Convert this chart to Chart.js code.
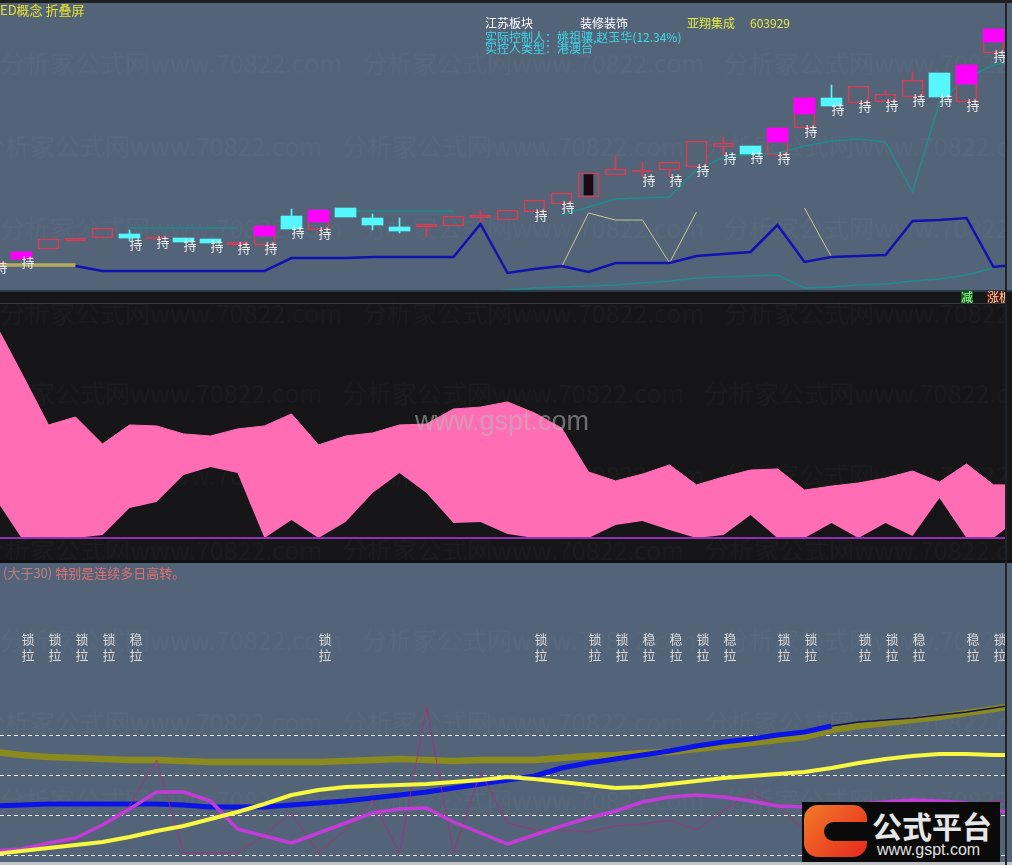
<!DOCTYPE html>
<html>
<head>
<meta charset="utf-8">
<script src="https://cdn.jsdelivr.net/npm/chart.js@4.4.1/dist/chart.umd.min.js"></script>
<style>
  html, body { margin: 0; padding: 0; background: #536479; }
  body { width: 1012px; height: 865px; position: relative; overflow: hidden; font-family: "Noto Sans CJK SC", "Noto Sans", sans-serif; }
  .panel { position: absolute; left: 0; width: 1012px; overflow: hidden; }
  #p1 { top: 0; height: 290px; background: #536479; }
  #p2 { top: 290px; height: 272px; background: #161618; }
  #p3 { top: 562px; height: 303px; background: #536479; }
  canvas { position: absolute; left: 0; top: 0; }
  .txt { position: absolute; font-size: 12px; line-height: 12px; white-space: nowrap; }
  .bar { position: absolute; }
</style>
</head>
<body>
<div class="panel" id="p1"><canvas id="c1" width="1005" height="290"></canvas></div>
<div class="panel" id="p2"><canvas id="c2" width="1005" height="272"></canvas></div>
<div class="panel" id="p3"><canvas id="c3" width="1005" height="303"></canvas></div>

<div class="bar" style="left:0;top:0;width:1012px;height:3px;background:#1e1f21"></div>
<div class="bar" style="left:0;top:290px;width:1012px;height:2px;background:#2a3a48"></div>
<div class="bar" style="left:0;top:560px;width:1012px;height:3px;background:#101012"></div>
<div class="bar" style="left:0;top:862px;width:1012px;height:3px;background:#c0c4c8"></div>
<div class="bar" style="left:1005px;top:0;width:2px;height:865px;background:#202428"></div>

<div class="txt" style="left:0;top:3px;font-size:13px;line-height:13px;color:#e8e030">ED概念 折叠屏</div>
<div class="txt" style="left:485px;top:17px;color:#ffffff">江苏板块</div>
<div class="txt" style="left:580px;top:17px;color:#ffffff">装修装饰</div>
<div class="txt" style="left:687px;top:17px;color:#e8e840">亚翔集成</div>
<div class="txt" style="left:750px;top:17px;color:#e8e840">603929</div>
<div class="txt" style="left:485px;top:31px;color:#3cd8e8">实际控制人：姚祖骧,赵玉华(12.34%)</div>
<div class="txt" style="left:485px;top:42px;color:#3cd8e8">实控人类型：港澳台</div>

<div class="txt" style="left:961px;top:291px;width:12px;height:12px;background:#106018;color:#a0ffa0">减</div>
<div class="txt" style="left:987px;top:291px;width:18px;height:12px;overflow:hidden;background:#501414;color:#ffd8a8">涨板</div>
<div class="txt" style="left:415px;top:406px;font-family:'Liberation Sans',sans-serif;font-size:27px;line-height:30px;color:rgba(185,185,185,0.55)">www.gspt.com</div>

<div class="txt" style="left:3px;top:566px;font-size:13px;line-height:13px;color:#e07070"><span style="color:#c08080">(大于30)</span> 特别是连续多日高转。</div>

<div class="bar" style="left:802px;top:802px;width:198px;height:60px;background:#0a0a0a">
  <div class="bar" style="left:2px;top:3px;width:63px;height:52px;border-radius:14px;background:linear-gradient(135deg,#f27a2a,#e6281c)"></div>
  <div class="bar" style="left:22px;top:20px;width:43px;height:19px;border-radius:10px 0 0 10px;background:#0a0a0a"></div>
  <div class="txt" style="left:70px;top:6px;font-size:30px;line-height:34px;color:#e6e6e6;font-weight:bold">公式平台</div>
  <div class="txt" style="left:75px;top:40px;font-family:'Liberation Sans',sans-serif;font-size:16px;line-height:16px;color:#e0e0e0">www.gspt.com</div>
</div>

<script>
// bar index (one per trading day)
var idx = [0, 1, 2, 3, 4, 5, 6, 7, 8, 9, 10, 11, 12, 13, 14, 15, 16, 17, 18, 19,
  20, 21, 22, 23, 24, 25, 26, 27, 28, 29, 30, 31, 32, 33, 34, 35, 36, 37, 38];

// K line
var open = [9.04, 9.24, 9.64, 9.96, 10.08, 10.24, 10.04, 10.08, 10.04, 9.80, 9.80, 10.96, 10.40, 11.28, 10.88, 10.52, 10.52, 10.56, 10.88, 10.80,
  11.12, 11.44, 11.72, 12.60, 12.72, 12.80, 12.92, 13.72, 13.76, 13.40, 14.48, 15.68, 15.48, 15.52, 15.72, 16.68, 15.52, 17.48, null];
var close = [9.12, 9.52, 10.04, 10.08, 10.48, 10.08, 10.12, 9.92, 9.88, 9.92, 10.56, 10.44, 11.20, 10.92, 10.60, 10.36, 10.64, 10.96, 11.00, 11.20,
  11.60, 11.88, 12.68, 12.84, 12.80, 13.12, 13.96, 13.88, 13.44, 14.48, 15.68, 15.36, 16.16, 15.84, 16.40, 15.72, 17.00, 18.44, null];
var high = [9.12, 9.52, 10.04, 10.08, 10.48, 10.40, 10.12, 10.08, 10.04, 9.92, 10.56, 11.24, 11.20, 11.28, 11.04, 10.88, 10.64, 10.96, 11.20, 11.20,
  11.60, 11.88, 12.68, 13.36, 13.12, 13.12, 13.96, 14.12, 13.76, 14.48, 15.68, 16.20, 16.16, 16.00, 16.72, 16.68, 17.00, 18.44, null];
var low = [9.04, 9.24, 9.64, 9.96, 10.08, 9.96, 10.04, 9.92, 9.88, 9.80, 9.80, 10.44, 10.40, 10.92, 10.40, 10.28, 10.12, 10.56, 10.72, 10.80,
  11.12, 11.44, 11.72, 12.60, 12.52, 12.52, 12.92, 13.40, 13.44, 13.40, 14.48, 15.36, 15.48, 15.52, 15.72, 15.72, 15.52, 17.48, null];
// magenta block: from this price up to close
var magLow = [null, 9.24, null, null, null, null, null, null, null, null, 10.16, null, 10.72, null, null, null, null, null, null, null,
  null, null, null, null, null, null, null, null, null, 13.92, 15.04, null, null, null, null, null, 16.24, 17.92, null];
var focusIdx = 22;
var focusBody = [11.80, 12.62];
var holdIdx = [0, 1, 5, 6, 7, 8, 9, 10, 11, 12, 20, 21, 24, 25, 26, 27, 28, 29, 30, 31, 32, 33, 34, 35, 36, 37];

// main chart lines
var tealHi = [null, null, null, null, null, 10.48, 10.48, 10.48, 10.48, 10.48, null, null, null, 11.16, 11.16, 11.16, 11.16, 11.16, null, null,
  null, 11.00, 11.32, 11.64, 11.68, 11.72, 12.80, 13.32, 13.40, 13.48, 13.76, 13.96, 14.04, 13.92, 11.92, 15.52, 16.48, 17.00, 17.20];
var tealLo = [null, null, null, null, null, null, null, null, null, null, null, null, null, null, null, null, null, null, 7.92, 8.00,
  8.08, 8.12, 8.16, 8.20, 8.28, 8.36, 8.48, 8.52, 8.56, 8.60, 8.08, 8.12, 8.20, 8.24, 8.36, 8.44, 8.60, 8.88, 9.12];
var blueLine = [null, null, null, 8.96, 8.76, 8.76, 8.76, 8.76, 8.76, 8.76, 8.76, 9.28, 9.28, 9.28, 9.32, 9.32, 9.32, 9.32, 10.64, 8.68,
  8.84, 8.96, 8.72, 9.08, 9.08, 9.08, 9.36, 9.44, 9.52, 10.60, 9.12, 9.32, 9.36, 9.40, 10.76, 10.80, 10.88, 8.92, 9.04];
var khakiLine = [9.00, 9.00, 9.00, 9.00, null, null, null, null, null, null, null, null, null, null, null, null, null, null, null, null,
  null, 8.92, 11.08, 10.80, 10.80, 9.08, 11.12, null, null, null, 11.28, 9.32, null, null, null, null, null, null, null];

// middle panel band
var flowTop = [91.9, 70.2, 48.1, 51.5, 40.0, 48.1, 47.7, 44.3, 43.4, 46.4, 47.7, 52.8, 39.6, 43.4, 44.7, 48.1, 48.5, 54.9, 55.7, 57.9,
  53.2, 46.8, 28.1, 24.3, 27.2, 31.1, 22.6, 26.0, 28.9, 29.4, 20.4, 22.1, 23.4, 25.5, 28.5, 23.8, 31.5, 22.6, 22.6];
var flowBase = [17.4, 0, 0, 0, 1.3, 12.8, 15.3, 26.8, 30.2, 27.7, 0, 7.7, 0, 6.8, 19.1, 27.7, 19.1, 6.4, 6.8, 1.7,
  0, 0, 0, 5.5, 7.2, 3.4, 0, 1.3, 9.8, 0, 0, 6.4, 0, 6.4, 0.9, 17.0, 0, 0, 8.9];

// bottom panel
var oliveLine = [25.75, 25.0, 24.5, 24.25, 24.0, 23.75, 23.75, 23.5, 23.25, 23.25, 23.25, 23.25, 23.25, 23.5, 23.75, 24.0, 23.75, 23.5, 23.75, 23.75,
  23.75, 24.25, 24.75, 25.0, 25.5, 25.75, 26.5, 27.25, 28.0, 28.75, 29.5, 31.25, 32.25, 33.0, 33.75, 34.5, 35.5, 36.5, 37.5];
var blueTrend = [12.25, 12.5, 12.75, 12.75, 12.75, 12.75, 12.75, 12.5, 12.0, 12.0, 12.0, 12.5, 13.0, 13.5, 14.25, 15.0, 15.75, 16.75, 17.75, 18.75,
  19.75, 21.75, 23.0, 24.0, 25.0, 26.0, 27.25, 28.25, 29.0, 30.0, 30.75, 32.25, 33.25, 33.75, 34.25, 35.0, 35.75, 36.75, 37.75];
var yellowLine = [0.25, 1.0, 1.75, 2.5, 3.25, 4.5, 6.0, 7.25, 9.0, 10.75, 12.75, 15.0, 16.25, 17.0, 17.25, 17.5, 17.75, 18.25, 18.75, 19.5,
  19.0, 18.25, 17.5, 16.75, 17.0, 17.75, 18.5, 19.25, 19.75, 20.25, 20.75, 21.75, 23.0, 24.0, 24.75, 25.25, 25.25, 25.0, 25.0];
var magentaLine = [1.0, 1.5, 3.0, 4.25, 7.5, 11.5, 15.75, 15.75, 13.5, 6.5, 4.75, 3.0, 5.5, 8.0, 10.5, 11.5, 11.75, 8.25, 5.5, 2.75,
  5.0, 7.25, 9.25, 11.0, 13.25, 14.5, 15.0, 14.5, 13.5, 12.25, 12.0, 12.25, 12.75, 13.25, 13.75, 13.5, 13.0, 11.25, 10.25];
var thinLine = [0.75, 1.25, 1.75, 3.75, 7.5, 12.25, 23.75, 0.5, 0.5, 0.5, 5.0, 10.5, 0.5, 6.25, 13.75, 0.5, 37.0, 0.5, 20.75, 8.0,
  6.25, 6.25, 5.75, 7.25, 7.75, 8.75, 6.25, 11.25, 15.5, 12.25, 6.25, 5.0, 3.75, 4.25, 2.5, 8.75, 10.75, 13.75, 12.5];
var levels = [0, 10, 20, 30];
var sigIdx = [1, 2, 3, 4, 5, 12, 20, 22, 23, 24, 25, 26, 27, 29, 30, 32, 33, 34, 36, 37];
var sigTop = ["锁", "锁", "锁", "锁", "稳", "锁", "锁", "锁", "锁", "稳", "稳", "锁", "稳", "锁", "锁", "锁", "锁", "稳", "稳", "锁"];
var sigLevel = 54;

var RED = "#dc3c52";
var CYAN = "#54f8fc";
var WM = "分析家公式网www.70822.com";

function xAxis() {
  return { type: "linear", min: 0.2037, max: 37.4259, offset: false, display: false };
}

function isUp(i) {
  return close[i] >= open[i];
}

var watermark = {
  id: "watermark",
  beforeDatasetsDraw: function (chart, args, opts) {
    var ctx = chart.ctx;
    ctx.save();
    ctx.font = '25px "Noto Sans CJK SC"';
    ctx.fillStyle = opts.color;
    ctx.textBaseline = "middle";
    opts.rows.forEach(function (r, n) {
      for (var k = -1; k < 4; k++) {
        ctx.fillText(WM, k * 362 + (n % 2 ? -20 : 0), r);
      }
    });
    ctx.restore();
  }
};

var holdLabels = {
  id: "holdLabels",
  afterDatasetsDraw: function (chart) {
    var ctx = chart.ctx;
    var x = chart.scales.x;
    var y = chart.scales.y;
    ctx.save();
    ctx.font = '13px "Noto Sans CJK SC"';
    ctx.fillStyle = "#ececec";
    ctx.textBaseline = "middle";
    holdIdx.forEach(function (i) {
      ctx.fillText("持", x.getPixelForValue(i), y.getPixelForValue(low[i]) + 3);
    });
    ctx.restore();
  }
};

var bandLines = {
  id: "bandLines",
  afterDatasetsDraw: function (chart) {
    var ctx = chart.ctx;
    var y = chart.scales.y;
    var a = chart.chartArea;
    ctx.save();
    ctx.fillStyle = "#3a3a3c";
    ctx.fillRect(0, Math.round(y.getPixelForValue(100)), a.right, 1);
    ctx.fillStyle = "#9030b0";
    ctx.fillRect(0, Math.round(y.getPixelForValue(0)) - 1, a.right, 2);
    ctx.restore();
  }
};

var levelLines = {
  id: "levelLines",
  beforeDatasetsDraw: function (chart) {
    var ctx = chart.ctx;
    var y = chart.scales.y;
    ctx.save();
    ctx.strokeStyle = "#f0f0f0";
    ctx.lineWidth = 1;
    ctx.setLineDash([4, 3]);
    levels.forEach(function (v) {
      var py = Math.round(y.getPixelForValue(v)) + 0.5;
      ctx.beginPath();
      ctx.moveTo(0, py);
      ctx.lineTo(chart.chartArea.right, py);
      ctx.stroke();
    });
    ctx.restore();
  },
  afterDatasetsDraw: function (chart) {
    var ctx = chart.ctx;
    var x = chart.scales.x;
    var y = chart.scales.y;
    ctx.save();
    ctx.font = '13px "Noto Sans CJK SC"';
    ctx.fillStyle = "#d8d8d8";
    ctx.textBaseline = "middle";
    sigIdx.forEach(function (i, n) {
      var px = x.getPixelForValue(i);
      ctx.fillText(sigTop[n], px, y.getPixelForValue(sigLevel));
      ctx.fillText("拉", px, y.getPixelForValue(sigLevel - 4));
    });
    ctx.restore();
  }
};

var common = {
  responsive: false,
  animation: false,
  events: [],
  layout: { padding: 0 }
};

// --- K line panel ---
var bodyUp = idx.map(function (i) { return open[i] == null || !isUp(i) ? null : [open[i], close[i]]; });
var bodyDown = idx.map(function (i) { return open[i] == null || isUp(i) ? null : [close[i], open[i]]; });
var wickTop = idx.map(function (i) {
  if (open[i] == null) return null;
  var t = Math.max(open[i], close[i]);
  return high[i] > t ? [t, high[i]] : null;
});
var wickBot = idx.map(function (i) {
  if (open[i] == null) return null;
  var b = Math.min(open[i], close[i]);
  return low[i] < b ? [low[i], b] : null;
});
var wickColor = idx.map(function (i) { return open[i] != null && isUp(i) ? RED : CYAN; });
var magBar = idx.map(function (i) { return magLow[i] == null ? null : [magLow[i], close[i]]; });
var focusBar = idx.map(function (i) { return i === focusIdx ? focusBody : null; });

function barSet(data, fill, border, width, order) {
  return {
    type: "bar", data: data, backgroundColor: fill, borderColor: border,
    borderWidth: border ? 1 : 0, borderSkipped: false, barThickness: width,
    grouped: false, order: order
  };
}

new Chart(document.getElementById("c1"), {
  type: "bar",
  data: {
    labels: idx,
    datasets: [
      barSet(magBar, "#ff00ff", null, 21, 0),
      barSet(focusBar, "#1c0a12", null, 9, 1),
      barSet(bodyUp, "rgba(0,0,0,0)", RED, 21, 2),
      barSet(bodyDown, CYAN, null, 21, 3),
      barSet(wickTop, wickColor, null, 1, 4),
      barSet(wickBot, wickColor, null, 1, 4),
      { type: "line", data: blueLine, borderColor: "#1212b0", borderWidth: 2.5, pointRadius: 0, order: 5 },
      {
        type: "line", data: khakiLine, borderColor: "#c8c890", borderWidth: 1, pointRadius: 0, order: 6,
        segment: {
          borderWidth: function (c) { return c.p1DataIndex <= 3 ? 3.5 : 1; },
          borderColor: function (c) { return c.p1DataIndex <= 3 ? "#b8aa62" : "#c8c890"; }
        }
      },
      { type: "line", data: tealHi, borderColor: "#1f8c8e", borderWidth: 1.5, pointRadius: 0, order: 7 },
      { type: "line", data: tealLo, borderColor: "#1f8c8e", borderWidth: 1.5, pointRadius: 0, order: 7 }
    ]
  },
  options: Object.assign({}, common, {
    scales: { x: xAxis(), y: { type: "linear", min: 8.0, max: 19.6, display: false } },
    plugins: {
      legend: { display: false }, tooltip: { enabled: false },
      watermark: { rows: [63, 146, 228], color: "rgba(255,255,255,0.025)" }
    }
  }),
  plugins: [watermark, holdLabels]
});

// --- band panel ---
new Chart(document.getElementById("c2"), {
  type: "line",
  data: {
    labels: idx,
    datasets: [
      { data: flowBase, borderColor: "rgba(0,0,0,0)", borderWidth: 1, pointRadius: 0, fill: false },
      { data: flowTop, borderColor: "#ff6eb4", borderWidth: 1, pointRadius: 0, fill: "-1", backgroundColor: "#ff6eb4" }
    ]
  },
  options: Object.assign({}, common, {
    layout: { padding: { top: 13, bottom: 24, left: 0, right: 0 } },
    scales: { x: xAxis(), y: { type: "linear", min: 0, max: 100, display: false } },
    plugins: {
      legend: { display: false }, tooltip: { enabled: false },
      watermark: { rows: [23, 103, 185, 260], color: "rgba(255,255,255,0.025)" }
    }
  }),
  plugins: [watermark, bandLines]
});

// --- trend panel ---
new Chart(document.getElementById("c3"), {
  type: "line",
  data: {
    labels: idx,
    datasets: [
      { data: yellowLine, borderColor: "#f8f840", borderWidth: 4, pointRadius: 0, borderJoinStyle: "round", order: 0 },
      { data: magentaLine, borderColor: "#c43cd8", borderWidth: 3.5, pointRadius: 0, borderJoinStyle: "round", order: 1 },
      { data: thinLine, borderColor: "rgba(176,40,130,0.8)", borderWidth: 1, pointRadius: 0, order: 2 },
      {
        data: blueTrend, borderColor: "#0a14e6", borderWidth: 5, pointRadius: 0, borderJoinStyle: "round", order: 3,
        segment: {
          borderWidth: function (c) { return c.p0DataIndex >= 31 ? 1.5 : 5; },
          borderColor: function (c) { return c.p0DataIndex >= 31 ? "#14145a" : "#0a14e6"; }
        }
      },
      { data: oliveLine, borderColor: "#8a8a1e", borderWidth: 6.5, pointRadius: 0, borderJoinStyle: "round", order: 4 }
    ]
  },
  options: Object.assign({}, common, {
    layout: { padding: { top: 3, bottom: 10, left: 0, right: 0 } },
    scales: { x: xAxis(), y: { type: "linear", min: 0, max: 72.5, display: false } },
    plugins: {
      legend: { display: false }, tooltip: { enabled: false },
      watermark: { rows: [78, 160, 238], color: "rgba(255,255,255,0.025)" }
    }
  }),
  plugins: [watermark, levelLines]
});
</script>
</body>
</html>
